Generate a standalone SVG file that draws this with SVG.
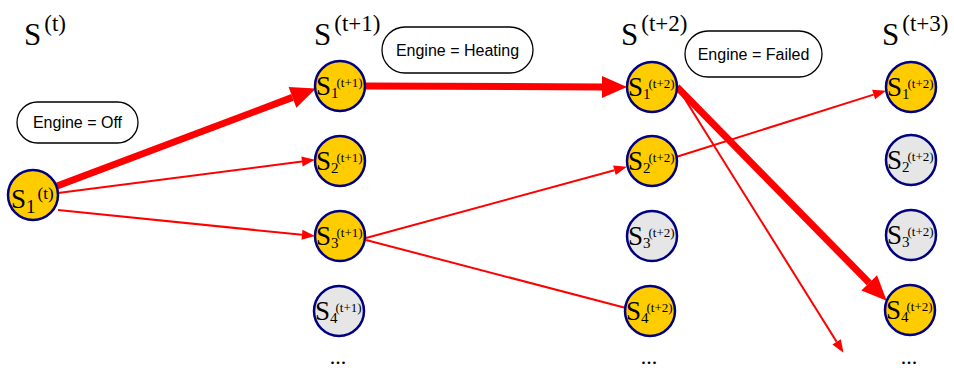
<svg xmlns="http://www.w3.org/2000/svg" width="954" height="371" viewBox="0 0 954 371">
<style>
.on{fill:#FFCC00;stroke:#000080;stroke-width:2.5}
.off{fill:#E6E6E6;stroke:#000080;stroke-width:2.5}
.hd{font-family:"Liberation Serif",serif;fill:#000}
.big{font-size:31px}
.sup{font-size:23px}
.ns{font-family:"Liberation Serif",serif;fill:#000;font-size:27px}
.nsub{font-size:15px}
.nsup{font-size:13px}
.lbl{fill:#fff;stroke:#000;stroke-width:1.3}
.lt{font-family:"Liberation Sans",Arial,sans-serif;font-size:16px;fill:#000;text-anchor:middle}
.thick{stroke:#FF0000;stroke-width:7;fill:none}
.thin{stroke:#FF0000;stroke-width:2;fill:none}
.dots{font-family:"Liberation Serif",serif;font-size:22px;fill:#000;text-anchor:middle}
</style>
<defs>
<marker id="ahT" markerUnits="userSpaceOnUse" markerWidth="30" markerHeight="30" refX="0" refY="0" orient="auto" overflow="visible">
<path d="M0,-11 L25,0 L0,11 z" fill="#FF0000"/>
</marker>
<marker id="aht" markerUnits="userSpaceOnUse" markerWidth="16" markerHeight="16" refX="0" refY="0" orient="auto" overflow="visible">
<path d="M0,-5 L13,0 L0,5 z" fill="#FF0000"/>
</marker>
</defs>

<g id="headers">
<text class="hd" x="24" y="45"><tspan class="big">S</tspan><tspan class="sup" dx="3" dy="-14">(t)</tspan></text>
<text class="hd" x="314" y="45"><tspan class="big">S</tspan><tspan class="sup" dx="3" dy="-14">(t+1)</tspan></text>
<text class="hd" x="621" y="45"><tspan class="big">S</tspan><tspan class="sup" dx="3" dy="-14">(t+2)</tspan></text>
<text class="hd" x="882" y="45"><tspan class="big">S</tspan><tspan class="sup" dx="3" dy="-14">(t+3)</tspan></text>
</g>

<g id="label-off">
<rect class="lbl" x="17" y="102" width="121" height="41" rx="20.5"/>
<text class="lt" x="77.5" y="128">Engine = Off</text>
</g>
<g id="label-heating">
<rect class="lbl" x="382" y="27" width="151" height="46" rx="23"/>
<text class="lt" x="457.5" y="56">Engine = Heating</text>
</g>
<g id="label-failed">
<rect class="lbl" x="685" y="31" width="137" height="46" rx="23"/>
<text class="lt" x="753.5" y="60">Engine = Failed</text>
</g>

<g id="connectors">
<path class="thick" d="M57,186 L292.5,97.4" marker-end="url(#ahT)"/>
<path class="thin" d="M58,193 L302,161.5" marker-end="url(#aht)"/>
<path class="thin" d="M58,210 L302,234.8" marker-end="url(#aht)"/>
<path class="thick" d="M366,86 L602,86.9" marker-end="url(#ahT)"/>
<path class="thin" d="M366,238 L614.4,170.2" marker-end="url(#aht)"/>
<path class="thin" d="M366,240 L626,308"/>
<path class="thin" d="M676,157 L873.6,94.6" marker-end="url(#aht)"/>
<path class="thick" d="M677,87 L869.2,282.9" marker-end="url(#ahT)"/>
<path class="thin" d="M678,88 L836.6,341.8" marker-end="url(#aht)"/>
</g>

<g id="s1-t">
<circle class="on" cx="33" cy="195" r="25"/>
<text class="ns" x="11" y="208">S<tspan style="font-size:19px" dy="5">1</tspan><tspan style="font-size:17px" dx="2" dy="-14">(t)</tspan></text>
</g>

<g id="s1-t1"><circle class="on" cx="340" cy="86" r="25"/>
<text class="ns" x="316" y="95">S<tspan class="nsub" dy="3">1</tspan><tspan class="nsup" dx="-2" dy="-11">(t+1)</tspan></text></g>
<g id="s2-t1"><circle class="on" cx="340" cy="161" r="25"/>
<text class="ns" x="316" y="170">S<tspan class="nsub" dy="3">2</tspan><tspan class="nsup" dx="-2" dy="-11">(t+1)</tspan></text></g>
<g id="s3-t1"><circle class="on" cx="340" cy="236" r="25"/>
<text class="ns" x="316" y="245">S<tspan class="nsub" dy="3">3</tspan><tspan class="nsup" dx="-2" dy="-11">(t+1)</tspan></text></g>
<g id="s4-t1"><circle class="off" cx="339" cy="311" r="25"/>
<text class="ns" x="315" y="320">S<tspan class="nsub" dy="3">4</tspan><tspan class="nsup" dx="-2" dy="-11">(t+1)</tspan></text></g>
<text class="dots" x="338" y="364">...</text>

<g id="s1-t2"><circle class="on" cx="652" cy="87" r="25"/>
<text class="ns" x="628" y="96">S<tspan class="nsub" dy="3">1</tspan><tspan class="nsup" dx="-2" dy="-11">(t+2)</tspan></text></g>
<g id="s2-t2"><circle class="on" cx="652" cy="161" r="25"/>
<text class="ns" x="628" y="170">S<tspan class="nsub" dy="3">2</tspan><tspan class="nsup" dx="-2" dy="-11">(t+2)</tspan></text></g>
<g id="s3-t2"><circle class="off" cx="652" cy="236" r="25"/>
<text class="ns" x="628" y="245">S<tspan class="nsub" dy="3">3</tspan><tspan class="nsup" dx="-2" dy="-11">(t+2)</tspan></text></g>
<g id="s4-t2"><circle class="on" cx="650" cy="311" r="25"/>
<text class="ns" x="626" y="320">S<tspan class="nsub" dy="3">4</tspan><tspan class="nsup" dx="-2" dy="-11">(t+2)</tspan></text></g>
<text class="dots" x="649" y="364">...</text>

<g id="s1-t3"><circle class="on" cx="911" cy="87" r="25"/>
<text class="ns" x="887" y="96">S<tspan class="nsub" dy="3">1</tspan><tspan class="nsup" dx="-2" dy="-11">(t+2)</tspan></text></g>
<g id="s2-t3"><circle class="off" cx="911" cy="160" r="25"/>
<text class="ns" x="887" y="169">S<tspan class="nsub" dy="3">2</tspan><tspan class="nsup" dx="-2" dy="-11">(t+2)</tspan></text></g>
<g id="s3-t3"><circle class="off" cx="911" cy="235" r="25"/>
<text class="ns" x="887" y="244">S<tspan class="nsub" dy="3">3</tspan><tspan class="nsup" dx="-2" dy="-11">(t+2)</tspan></text></g>
<g id="s4-t3"><circle class="on" cx="910" cy="310" r="25"/>
<text class="ns" x="886" y="319">S<tspan class="nsub" dy="3">4</tspan><tspan class="nsup" dx="-2" dy="-11">(t+2)</tspan></text></g>
<text class="dots" x="909" y="364">...</text>
</svg>
